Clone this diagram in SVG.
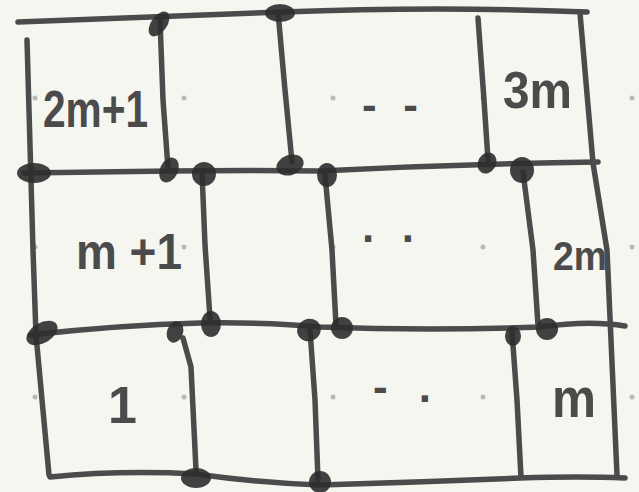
<svg xmlns="http://www.w3.org/2000/svg" width="639" height="492" viewBox="0 0 639 492">
<style>
.ln{fill:none;stroke:#4b4b4b;stroke-width:5.5;stroke-linecap:round;stroke-linejoin:round}
.blob{fill:#2e2e2e;fill-opacity:0.9}
.lbl{font-family:"Liberation Sans","DejaVu Sans",sans-serif;font-weight:bold;fill:#4b4b4b}
.gd{fill:#b9b9b6}
</style>
<rect width="639" height="492" fill="#f5f6f0"/>
<g id="grid-dots">
<circle class="gd" cx="35" cy="98" r="2.5"/><circle class="gd" cx="184" cy="98" r="2.5"/><circle class="gd" cx="333" cy="98" r="2.5"/><circle class="gd" cx="483" cy="98" r="2.5"/><circle class="gd" cx="632" cy="98" r="2.5"/>
<circle class="gd" cx="35" cy="247" r="2.5"/><circle class="gd" cx="184" cy="247" r="2.5"/><circle class="gd" cx="333" cy="247" r="2.5"/><circle class="gd" cx="483" cy="247" r="2.5"/><circle class="gd" cx="632" cy="247" r="2.5"/>
<circle class="gd" cx="35" cy="397" r="2.5"/><circle class="gd" cx="184" cy="397" r="2.5"/><circle class="gd" cx="333" cy="397" r="2.5"/><circle class="gd" cx="483" cy="397" r="2.5"/><circle class="gd" cx="632" cy="397" r="2.5"/>
</g>
<g id="connectors">
<path class="ln" d="M18,22 Q150,17 283,12 Q440,6 587,12"/>
<path class="ln" d="M24,173 L170,171 Q250,170 320,171 Q460,164 598,162"/>
<path class="ln" d="M30,335 Q120,325 200,323 Q270,322 320,327 Q430,331 540,327 Q590,320 625,326"/>
<path class="ln" d="M50,477 Q120,470 196,474 Q260,483 320,485 Q420,482 520,478 Q580,476 625,478"/>
<path class="ln" d="M27,40 L33,250 L36,335 L49,475"/>
<path class="ln" d="M580,13 L593,163 L607,250 L617,475"/>
<path class="ln" d="M160,20 L163,100 L168,168"/>
<path class="ln" d="M278,12 L285,90 L292,162"/>
<path class="ln" d="M478,18 L484,100 L488,160"/>
<path class="ln" d="M202,172 L205,245 L210,318"/>
<path class="ln" d="M325,175 L332,250 L336,325"/>
<path class="ln" d="M523,172 L533,250 L538,325"/>
<path class="ln" d="M183,338 L191,367 L196,470"/>
<path class="ln" d="M310,330 L315,400 L318,480"/>
<path class="ln" d="M512,332 L517,400 L521,477"/>
</g>
<g id="junctions">
<ellipse class="blob" cx="159" cy="24" rx="14" ry="8" transform="rotate(-55 159 24)"/>
<ellipse class="blob" cx="280" cy="13" rx="15" ry="9"/>
<ellipse class="blob" cx="34" cy="173" rx="17" ry="10"/>
<ellipse class="blob" cx="169" cy="170" rx="9" ry="13" transform="rotate(25 169 170)"/>
<ellipse class="blob" cx="204" cy="174" rx="12" ry="12"/>
<ellipse class="blob" cx="290" cy="165" rx="14" ry="10" transform="rotate(-20 290 165)"/>
<ellipse class="blob" cx="327" cy="175" rx="10" ry="12"/>
<ellipse class="blob" cx="487" cy="163" rx="9" ry="11" transform="rotate(30 487 163)"/>
<ellipse class="blob" cx="522" cy="170" rx="12" ry="13"/>
<ellipse class="blob" cx="42" cy="333" rx="17" ry="10" transform="rotate(-30 42 333)"/>
<ellipse class="blob" cx="175" cy="332" rx="8" ry="11" transform="rotate(20 175 332)"/>
<ellipse class="blob" cx="211" cy="324" rx="10" ry="13"/>
<ellipse class="blob" cx="309" cy="330" rx="12" ry="11" transform="rotate(-25 309 330)"/>
<ellipse class="blob" cx="342" cy="328" rx="11" ry="11"/>
<ellipse class="blob" cx="513" cy="336" rx="8" ry="10"/>
<ellipse class="blob" cx="547" cy="329" rx="11" ry="11"/>
<ellipse class="blob" cx="196" cy="478" rx="15" ry="10"/>
<ellipse class="blob" cx="320" cy="482" rx="11" ry="11"/>
</g>
<g id="cell-2m1"><text class="lbl" x="43" y="127" font-size="52" textLength="105" lengthAdjust="spacingAndGlyphs">2m+1</text></g>
<g id="cell-r3-dots"><text class="lbl" x="362" y="120" font-size="44" textLength="56" lengthAdjust="spacing">- -</text></g>
<g id="cell-3m"><text class="lbl" x="503" y="108" font-size="52" textLength="69" lengthAdjust="spacingAndGlyphs">3m</text></g>
<g id="cell-m1"><text class="lbl" x="76" y="269" font-size="50" textLength="106" lengthAdjust="spacingAndGlyphs">m +1</text></g>
<g id="cell-r2-dots"><text class="lbl" x="362" y="242" font-size="44" textLength="52" lengthAdjust="spacing">. .</text></g>
<g id="cell-2m"><text class="lbl" x="553" y="270" font-size="40" textLength="54" lengthAdjust="spacingAndGlyphs">2m</text></g>
<g id="cell-1"><text class="lbl" x="108" y="423" font-size="52">1</text></g>
<g id="cell-r1-dots"><text class="lbl" x="373" y="402" font-size="44" textLength="58" lengthAdjust="spacing">- .</text></g>
<g id="cell-m"><text class="lbl" x="552" y="417" font-size="56" textLength="44" lengthAdjust="spacingAndGlyphs">m</text></g>
</svg>
